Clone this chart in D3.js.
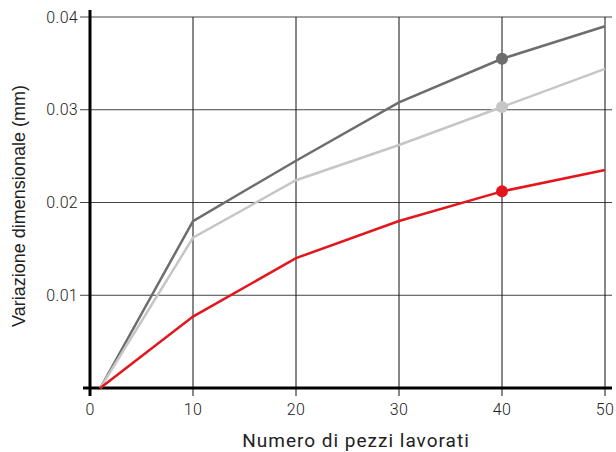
<!DOCTYPE html>
<html lang="it">
<head>
    <meta charset="utf-8">
    <title>Variazione dimensionale</title>
    <script src="https://d3js.org/d3.v7.min.js"></script>
    <style>
        body { margin: 0; background: #fff; }
    </style>
</head>
<body>
<div id="chart"></div>
<script>
    // Data
    const pezzi = [1, 10, 20, 30, 40, 50];
    const serieScura = [0, 0.0180, 0.0245, 0.0308, 0.0355, 0.0390];
    const serieChiara = [0, 0.0162, 0.0224, 0.0262, 0.0303, 0.0344];
    const serieRossa = [0, 0.0077, 0.0140, 0.0180, 0.0212, 0.0235];
    const xTicks = [0, 10, 20, 30, 40, 50];
    const yTicks = [0.01, 0.02, 0.03, 0.04];
    const markerAt = 40;

    const series = [
        {name: "scura", values: serieScura, color: "#6d6d6d"},
        {name: "chiara", values: serieChiara, color: "#c6c6c6"},
        {name: "rossa", values: serieRossa, color: "#e3161d"}
    ];

    const width = 616, height = 452;
    const margin = {top: 17, right: 11, bottom: 64, left: 90};

    const svg = d3.select("#chart")
        .append("svg")
        .attr("width", width)
        .attr("height", height);

    const x = d3.scaleLinear()
        .domain([0, 50])
        .range([margin.left, width - margin.right]);

    const y = d3.scaleLinear()
        .domain([0, 0.04])
        .range([height - margin.bottom, margin.top]);

    const tickFont = "Roboto, sans-serif";

    // Horizontal grid lines
    svg.append("g")
        .selectAll("line")
        .data(yTicks)
        .join("line")
        .attr("x1", x(0) - 10)
        .attr("x2", width - 4)
        .attr("y1", d => y(d))
        .attr("y2", d => y(d))
        .attr("stroke", "#444")
        .attr("stroke-width", 1);

    // Vertical grid lines
    svg.append("g")
        .selectAll("line")
        .data(xTicks.slice(1))
        .join("line")
        .attr("x1", d => x(d))
        .attr("x2", d => x(d))
        .attr("y1", y(0.04))
        .attr("y2", y(0) + 8)
        .attr("stroke", "#111")
        .attr("stroke-width", 1);

    // Axes
    svg.append("line")
        .attr("x1", x(0) - 7)
        .attr("x2", width - 4)
        .attr("y1", y(0))
        .attr("y2", y(0))
        .attr("stroke", "#000")
        .attr("stroke-width", 3);

    svg.append("line")
        .attr("x1", x(0))
        .attr("x2", x(0))
        .attr("y1", 10)
        .attr("y2", y(0) + 8)
        .attr("stroke", "#000")
        .attr("stroke-width", 3);

    // Tick labels
    svg.append("g")
        .selectAll("text")
        .data(xTicks)
        .join("text")
        .attr("x", d => x(d))
        .attr("y", y(0) + 27)
        .attr("text-anchor", "middle")
        .attr("font-family", tickFont)
        .attr("font-size", 16)
        .attr("font-weight", 300)
        .attr("letter-spacing", 0.3)
        .attr("fill", "#222")
        .text(d => d);

    svg.append("g")
        .selectAll("text")
        .data(yTicks)
        .join("text")
        .attr("x", x(0) - 12)
        .attr("y", d => y(d))
        .attr("dy", "0.35em")
        .attr("text-anchor", "end")
        .attr("font-family", tickFont)
        .attr("font-size", 16)
        .attr("font-weight", 300)
        .attr("letter-spacing", 0.3)
        .attr("fill", "#222")
        .text(d => String(d));

    // Lines
    const line = d3.line()
        .x((d, i) => x(pezzi[i]))
        .y(d => y(d));

    svg.append("g")
        .selectAll("path")
        .data(series)
        .join("path")
        .attr("d", d => line(d.values))
        .attr("fill", "none")
        .attr("stroke", d => d.color)
        .attr("stroke-width", 2.5);

    // Markers
    const mi = pezzi.indexOf(markerAt);
    svg.append("g")
        .selectAll("circle")
        .data(series)
        .join("circle")
        .attr("cx", x(markerAt))
        .attr("cy", d => y(d.values[mi]))
        .attr("r", 6)
        .attr("fill", d => d.color);

    // Axis titles
    svg.append("text")
        .attr("x", 356)
        .attr("y", 447)
        .attr("text-anchor", "middle")
        .attr("font-family", tickFont)
        .attr("font-size", 19)
        .attr("letter-spacing", 1)
        .attr("fill", "#222")
        .text("Numero di pezzi lavorati");

    svg.append("text")
        .attr("transform", "translate(25, 206) rotate(-90)")
        .attr("text-anchor", "middle")
        .attr("font-family", "'Liberation Sans', Arial, sans-serif")
        .attr("font-size", 18)
        .attr("fill", "#222")
        .text("Variazione dimensionale (mm)");
</script>
</body>
</html>
